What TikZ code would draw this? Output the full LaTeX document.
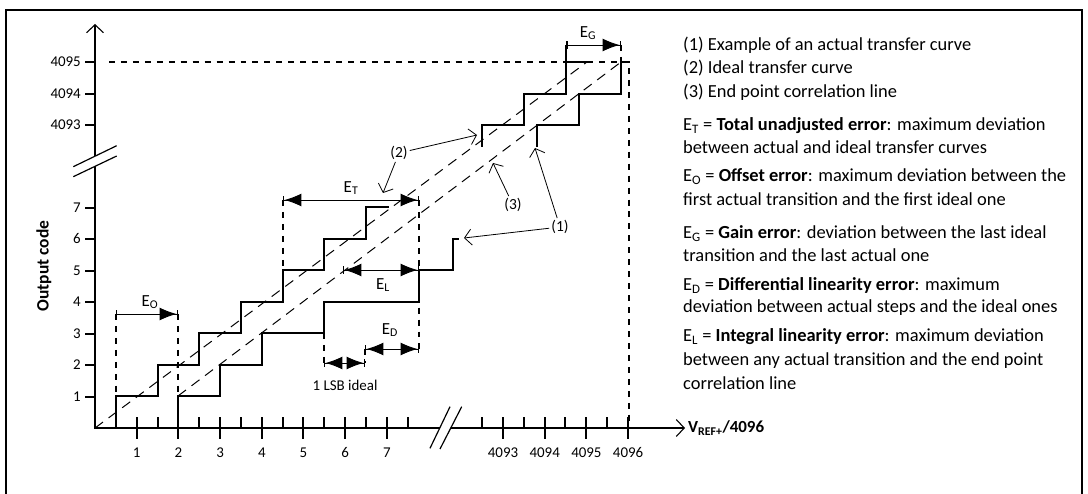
\documentclass[tikz,border=0pt]{standalone}
\usepackage{fontspec}
\setmainfont{Carlito}
\usetikzlibrary{arrows.meta, positioning}

\begin{document}
\begin{tikzpicture}[x=1bp, y=-1bp,
        axis/.style={line width=1.3pt, -{Straight Barb[length=8pt, width=17pt, line width=1.1pt]}},
        tick/.style={line width=2bp},
        brk/.style={line width=1.2pt},
        stair/.style={line width=2bp},
        ideal/.style={line width=1pt, dash pattern=on 10pt off 7pt},
        guide/.style={line width=2bp, dash pattern=on 6pt off 6pt},
        dimtwo/.style={line width=0.9pt, {Bar[width=8pt, line width=1.5pt]Latex[length=17pt, width=13pt]}-{Latex[length=17pt, width=13pt]Bar[width=8pt, line width=1.5pt]}},
        dimone/.style={line width=0.9pt, {Bar[width=8pt, line width=1.5pt]}-{Latex[length=17pt, width=13pt]Bar[width=8pt, line width=1.5pt]}},
        note/.style={line width=0.8pt, -{Straight Barb[length=7pt, width=16pt, line width=0.8pt]}},
        ticklbl/.style={font=\fontsize{15}{17}\selectfont, inner sep=0pt},
        elbl/.style={font=\fontsize{17}{19}\selectfont, inner sep=0pt},
        notelbl/.style={font=\fontsize{15.5}{18}\selectfont, inner sep=2pt},
        legend/.style={font=\fontsize{18.5}{21}\selectfont, inner sep=0pt, anchor=base west}
    ]
        \useasboundingbox (0,0) rectangle (1088,494);
        \draw[line width=2bp] (6,494) -- (6,10) -- (1082,10) -- (1082,494);

        % axes
        \draw[line width=1.3pt] (95,428) -- (95,166);
        \draw[axis] (95,156) -- (95,24);
        \draw[brk] (73.3,166.7) -- (116.7,145.7);
        \draw[brk] (73.3,176.7) -- (116.7,156);
        \draw[line width=1.3pt] (94.4,428) -- (439.8,428);
        \draw[axis] (450.8,428) -- (685,428);
        \draw[brk] (430,448.3) -- (450,406.7);
        \draw[brk] (440,449) -- (461.7,406.7);

        \foreach \k in {1,...,7}{
            \draw[tick] ({round(95+41.7*\k)},417) -- ({round(95+41.7*\k)},439);
            \node[ticklbl] (xl\k) at ({95+41.7*\k},453) {\k};
            \draw[tick] (85,{round(428-31.5*\k)}) -- (95,{round(428-31.5*\k)});
            \node[ticklbl, anchor=east] (yl\k) at (81,{428-31.5*\k}) {\k};
        }
        \foreach \k in {0.5,1.5,...,7.5}
            \draw[tick] ({round(95+41.7*\k)},417) -- ({round(95+41.7*\k)},428);
        \foreach \k [count=\i from 0] in {4093,4094,4095,4096}{
            \draw[tick] ({round(503+41.7*\i)},417) -- ({round(503+41.7*\i)},439);
            \draw[tick] ({round(482+41.7*\i)},417) -- ({round(482+41.7*\i)},428);
            \node[ticklbl] (xu\i) at ({503+41.7*\i},453) {\k};
        }
        \foreach \k/\y in {4093/125, 4094/94, 4095/62}{
            \draw[tick] (85,\y) -- (95,\y);
            \node[ticklbl, anchor=east] (yu\k) at (81,\y) {\k};
        }
        \node[font=\fontsize{17.5}{20}\selectfont\bfseries, rotate=90] (ylbl) at (44,266) {Output code};
        \node[font=\fontsize{17}{19}\selectfont\bfseries, anchor=west, inner sep=0pt] (xlbl) at (688,428) {V\textsubscript{REF+}/4096};

        % guides
        \draw[guide] (109,62) -- (629,62) -- (629,428);
        \draw[guide] (116,314) -- (116,396);
        \draw[guide] (178,314) -- (178,396);
        \draw[guide] (283,200) -- (283,270);
        \draw[guide] (419,200) -- (419,349);
        \draw[guide] (324,333) -- (324,363);
        \draw[guide] (365,349) -- (365,363);
        \draw[guide] (621,45) -- (621,62);

        % transfer curves
        \draw[ideal] (95,428) -- (587,62);
        \draw[ideal] (178,396) -- (621,62);
        \draw[stair] (116,428) |- (158,396) |- (199,365) |- (241,333) |- (283,302)
            |- (324,270) |- (366,239) |- (389,207);
        \draw[stair] (178,428) |- (220,396) |- (262,365) |- (324,333) |- (419,302)
            |- (453,270) |- (459,239);
        \draw[stair] (482,147) |- (524,125) |- (566,94) -- (566,45);
        \draw[stair] (566,62) -- (587,62);
        \draw[stair] (537,147) |- (579,125) |- (621,94) |- (629,62);

        % errors
        \coordinate (eoL) at (116,314);
        \coordinate (eoR) at (178,314);
        \coordinate (etL) at (283,200);
        \coordinate (etR) at (419,200);
        \coordinate (elL) at (343,270);
        \coordinate (elR) at (419,270);
        \coordinate (edL) at (365,349);
        \coordinate (edR) at (419,349);
        \coordinate (lsbL) at (324,363);
        \coordinate (lsbR) at (365,363);
        \coordinate (egL) at (566,45);
        \coordinate (egR) at (621,45);
        \draw[dimone] (eoL) -- (eoR);
        \draw[dimtwo] (etL) -- (etR);
        \draw[dimtwo] (elL) -- (elR);
        \draw[dimtwo] (edL) -- (edR);
        \draw[dimtwo] (lsbL) -- (lsbR);
        \draw[dimone] (egL) -- (egR);
        \node[elbl] (eo) at (150,302) {E\textsubscript{O}};
        \node[elbl] (et) at (351,188) {E\textsubscript{T}};
        \node[elbl] (el) at (383,285) {E\textsubscript{L}};
        \node[elbl] (ed) at (390,330) {E\textsubscript{D}};
        \node[elbl] (eg) at (588,33) {E\textsubscript{G}};
        \node[ticklbl] (lsb) at (345,385) {1 LSB ideal};

        % callouts
        \node[notelbl] (n2) at (399,153) {(2)};
        \node[notelbl] (n3) at (513,205) {(3)};
        \node[notelbl] (n1) at (560,227) {(1)};
        \coordinate (n2a) at (477,135);
        \coordinate (n2b) at (383,193);
        \coordinate (n3a) at (493,163);
        \coordinate (n1a) at (535,148);
        \coordinate (n1b) at (464,238);
        \draw[note] (n2) -- (n2a);
        \draw[note] (n2) -- (n2b);
        \draw[note] (n3) -- (n3a);
        \draw[note] (n1) -- (n1a);
        \draw[note] (n1) -- (n1b);

        % legend
        \foreach \y/\txt [count=\i] in {
            50.5/{(1) Example of an actual transfer curve},
            74/{(2) Ideal transfer curve},
            97.5/{(3) End point correlation line},
            130.5/{E\textsubscript{T} = \textbf{Total unadjusted error}: maximum deviation},
            154/{between actual and ideal transfer curves},
            182/{E\textsubscript{O} = \textbf{Offset error}: maximum deviation between the},
            205.5/{first actual transition and the first ideal one},
            238.5/{E\textsubscript{G} = \textbf{Gain error}: deviation between the last ideal},
            262/{transition and the last actual one},
            290.5/{E\textsubscript{D} = \textbf{Differential linearity error}: maximum},
            313/{deviation between actual steps and the ideal ones},
            342/{E\textsubscript{L} = \textbf{Integral linearity error}: maximum deviation},
            365.5/{between any actual transition and the end point},
            389/{correlation line}}
            \node[legend] (lg\i) at (683,\y) {\txt};
    \end{tikzpicture}
\end{document}
